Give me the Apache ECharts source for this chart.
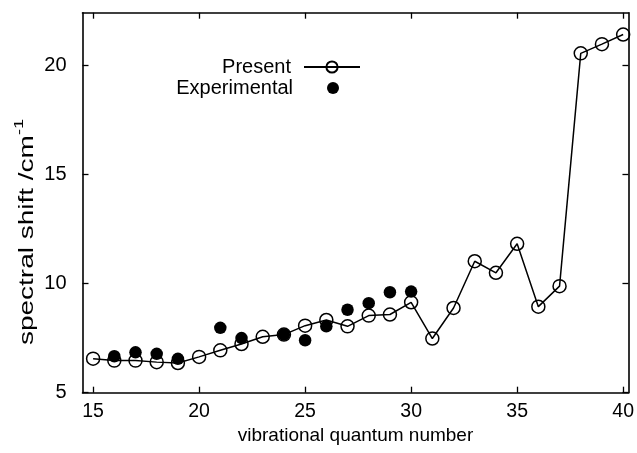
<!DOCTYPE html>
<html>
<head>
<meta charset="utf-8">
<title>Spectral shift vs vibrational quantum number</title>
<script src="https://cdn.jsdelivr.net/npm/echarts@6/dist/echarts.min.js"></script>
<style>
  html, body { margin: 0; padding: 0; background: #fff; }
  #chart { width: 637px; height: 453px; }
</style>
</head>
<body>
<div id="chart"></div>
<script>
// Calculated shifts for v = 15..40
const presentV = [15, 16, 17, 18, 19, 20, 21, 22, 23, 24, 25, 26, 27, 28, 29, 30, 31, 32, 33, 34, 35, 36, 37, 38, 39, 40];
const presentShift = [6.56, 6.47, 6.47, 6.40, 6.36, 6.64, 6.94, 7.23, 7.56, 7.66, 8.07, 8.33, 8.04, 8.53, 8.58, 9.14, 7.48, 8.88, 11.02, 10.49, 11.82, 8.94, 9.88, 20.54, 20.96, 21.40];

// Measured shifts
const experimentalV = [16, 17, 18, 19, 21, 22, 24, 25, 26, 27, 28, 29, 30];
const experimentalShift = [6.67, 6.85, 6.78, 6.55, 7.97, 7.50, 7.66, 7.40, 8.04, 8.80, 9.10, 9.60, 9.63];

// Tick positions
const xTicks = [15, 20, 25, 30, 35, 40];
const yTicks = [5, 10, 15, 20];

const yTitle = '{main|spectral shift /cm}{sup|-1}';

const FONT = '"Liberation Sans", Arial, Helvetica, sans-serif';
const INK = '#000';

function pairs(xs, ys) {
  return xs.map((x, i) => [x, ys[i]]);
}

const chart = echarts.init(document.getElementById('chart'), null, { renderer: 'canvas' });

const tickStyle = { show: true, inside: true, length: 6, lineStyle: { color: INK, width: 1.3 } };
const lineStyle = { show: true, onZero: false, lineStyle: { color: INK, width: 1.6 } };

chart.setOption({
  animation: false,
  backgroundColor: '#fff',
  textStyle: { fontFamily: FONT },
  grid: { left: 82.5, right: 7, top: 12.7, bottom: 60.3, containLabel: false },
  // rotated, widely set y-axis title
  graphic: [
    {
      type: 'text', x: 27, y: 232, rotation: Math.PI / 2, scaleX: 1.4,
      style: {
        text: yTitle, fill: INK, fontSize: 20, fontFamily: FONT,
        align: 'center', verticalAlign: 'middle',
        rich: {
          main: { fontSize: 20, lineHeight: 28, fill: INK, fontFamily: FONT, verticalAlign: 'middle' },
          sup: { fontSize: 13, lineHeight: 13, fill: INK, fontFamily: FONT, verticalAlign: 'top' }
        }
      }
    }
  ],
  xAxis: [
    {
      type: 'value', min: 14.5, max: 40.25, position: 'bottom',
      name: 'vibrational quantum number', nameLocation: 'middle', nameGap: 32,
      nameTextStyle: { fontSize: 19, color: INK, fontFamily: FONT },
      axisLine: lineStyle,
      axisTick: Object.assign({ customValues: xTicks }, tickStyle),
      axisLabel: { customValues: xTicks, fontSize: 19.5, color: INK, margin: 9, fontFamily: FONT },
      splitLine: { show: false }
    },
    {
      type: 'value', min: 14.5, max: 40.25, position: 'top',
      axisLine: lineStyle,
      axisTick: Object.assign({ customValues: xTicks }, tickStyle),
      axisLabel: { show: false },
      splitLine: { show: false }
    }
  ],
  yAxis: [
    {
      type: 'value', min: 5, max: 22.4, position: 'left',
      axisLine: lineStyle,
      axisTick: Object.assign({ customValues: yTicks }, tickStyle),
      axisLabel: { customValues: yTicks, fontSize: 20, color: INK, margin: 16, fontFamily: FONT },
      splitLine: { show: false }
    },
    {
      type: 'value', min: 5, max: 22.4, position: 'right',
      axisLine: lineStyle,
      axisTick: Object.assign({ customValues: yTicks }, tickStyle),
      axisLabel: { show: false },
      splitLine: { show: false }
    }
  ],
  legend: [
    {
      data: ['Present'], orient: 'vertical', align: 'right',
      right: 276, top: 57, itemWidth: 56, itemHeight: 14, padding: 0,
      textStyle: { fontSize: 20, color: INK, fontFamily: FONT, padding: [0, 8, 0, 0] }
    },
    {
      data: ['Experimental'], orient: 'vertical', align: 'right',
      right: 298, top: 78, itemWidth: 12, itemHeight: 12, padding: 0,
      textStyle: { fontSize: 20, color: INK, fontFamily: FONT, padding: [0, 29, 0, 0] }
    }
  ],
  series: [
    {
      name: 'Experimental', type: 'scatter',
      data: pairs(experimentalV, experimentalShift),
      symbol: 'circle', symbolSize: 12.5,
      itemStyle: { color: INK, opacity: 1 },
      z: 2
    },
    {
      name: 'Present', type: 'line',
      data: pairs(presentV, presentShift),
      symbol: 'circle', symbolSize: 13, showAllSymbol: true,
      lineStyle: { color: INK, width: 1.5 },
      itemStyle: { color: 'rgba(255,255,255,0)', borderColor: INK, borderWidth: 1.5 },
      z: 3
    }
  ]
});
</script>
</body>
</html>
